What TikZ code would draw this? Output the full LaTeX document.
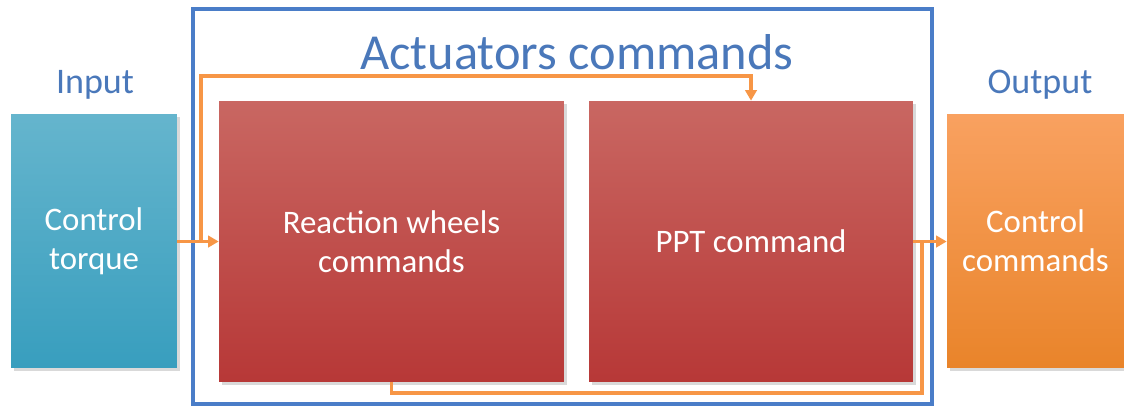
\documentclass[tikz,border=0pt]{standalone}
\usepackage{fontspec}
\setmainfont{Carlito}
\usetikzlibrary{positioning,arrows.meta,calc,shadows}
\definecolor{inTop}{HTML}{65B5CD}
\definecolor{inBot}{HTML}{389EBE}
\definecolor{redTop}{HTML}{C96762}
\definecolor{redBot}{HTML}{B73837}
\definecolor{outTop}{HTML}{F9A160}
\definecolor{outBot}{HTML}{E9842A}
\definecolor{flowOrange}{HTML}{F79646}
\definecolor{frameBlue}{HTML}{4A7DC8}
\definecolor{titleBlue}{HTML}{4A78BA}

\begin{document}
\begin{tikzpicture}[
  x=0.02cm, y=-0.02cm,
  block/.style={rectangle, inner sep=2pt, align=center, text=white,
    font=\fontsize{18.7}{22}\selectfont,
    drop shadow={opacity=0.3, shadow xshift=1.5pt, shadow yshift=-1.5pt}},
  flow/.style={line width=2pt, draw=flowOrange},
  tip/.style={-{Triangle[length=6pt,width=6.5pt]}},
  heading/.style={text=titleBlue, font=\fontsize{20.5}{24}\selectfont}
]
  \useasboundingbox (0,0) rectangle (1124,407);

  % Actuators frame
  \node[draw=frameBlue, line width=2.2pt, minimum width=14.78cm, minimum height=7.9cm] (frame) at (562.5,206.5) {};
  \node[text=titleBlue, font=\fontsize{28.7}{33}\selectfont] (title) at (577,52) {Actuators commands};

  % Input side
  \node[block, top color=inTop, bottom color=inBot, minimum width=3.32cm, minimum height=5.08cm] (input) at (94,241) {Control\\torque};
  \node[heading] (inlabel) at (95,85) {Input};

  % Command blocks
  \node[block, top color=redTop, bottom color=redBot, minimum width=6.9cm, minimum height=5.62cm] (wheels) at (391.5,241.5) {Reaction wheels\\commands};
  \node[block, top color=redTop, bottom color=redBot, minimum width=6.48cm, minimum height=5.62cm] (ppt) at (751,241.5) {PPT command};

  % Output side
  \node[block, top color=outTop, bottom color=outBot, minimum width=3.54cm, minimum height=5.08cm] (output) at (1035.5,241) {Control\\commands};
  \node[heading] (outlabel) at (1040,85) {Output};

  % Connectors
  \coordinate (split) at (201,241.5);
  \coordinate (turn) at (751,76);
  \coordinate (tap) at (922,241.5);
  \coordinate (loop) at (922,393);

  \draw[flow, tip] (input.east |- split) -- (wheels.west);
  \draw[flow, tip] (split) |- (turn) -- (ppt.north);
  \draw[flow] (tap) -- (loop) -| (wheels.south);
  \draw[flow, tip] (ppt.east) -- (output.west |- ppt.east);
\end{tikzpicture}
\end{document}
